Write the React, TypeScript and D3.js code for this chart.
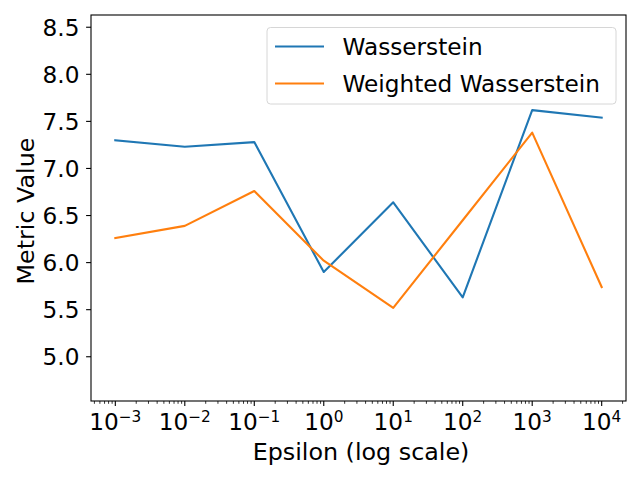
import React, { useEffect, useRef } from 'react';
import * as d3 from 'd3';

const epsilons = [1e-3, 1e-2, 1e-1, 1e0, 1e1, 1e2, 1e3, 1e4];
const wasserstein = [7.30, 7.23, 7.28, 5.90, 6.64, 5.63, 7.62, 7.54];
const weightedWasserstein = [6.26, 6.39, 6.76, 6.02, 5.52, 6.45, 7.38, 5.74];
const yTicks = [5.0, 5.5, 6.0, 6.5, 7.0, 7.5, 8.0, 8.5];
const seriesNames = ['Wasserstein', 'Weighted Wasserstein'];
const colors = ['#1f77b4', '#ff7f0e'];

const App: React.FC = () => {
  const svgRef = useRef<SVGSVGElement>(null);

  useEffect(() => {
    if (!svgRef.current) return;
    const width = 640;
    const height = 480;
    const m = { left: 91, top: 15, right: 14, bottom: 79 };
    const iw = width - m.left - m.right;
    const ih = height - m.top - m.bottom;
    const font = 'DejaVu Sans, sans-serif';
    const tickFs = 23.2;
    const labelFs = 23.8;
    const legendFs = 23.2;

    const root = d3.select(svgRef.current);
    root.selectAll('*').remove();
    root.attr('width', width).attr('height', height);
    root.append('rect').attr('width', width).attr('height', height).attr('fill', '#fff');

    const g = root.append('g').attr('transform', `translate(${m.left},${m.top})`);

    const x = d3.scaleLog().domain([Math.pow(10, -3.35), Math.pow(10, 4.35)]).range([0, iw]);
    const y = d3.scaleLinear().domain([4.53, 8.63]).range([ih, 0]);

    // lines
    const line = d3.line<number>()
      .x((_, i) => x(epsilons[i]))
      .y(d => y(d));
    [wasserstein, weightedWasserstein].forEach((s, i) => {
      g.append('path')
        .datum(s)
        .attr('fill', 'none')
        .attr('stroke', colors[i])
        .attr('stroke-width', 2.1)
        .attr('stroke-linejoin', 'round')
        .attr('stroke-linecap', 'square')
        .attr('d', line);
    });

    // frame
    g.append('rect')
      .attr('width', iw).attr('height', ih)
      .attr('fill', 'none').attr('stroke', '#000').attr('stroke-width', 1.1);

    // x minor ticks
    const minor: number[] = [];
    for (let k = -4; k <= 4; k++) {
      for (let j = 2; j <= 9; j++) {
        const v = j * Math.pow(10, k);
        if (x(v) >= 0 && x(v) <= iw) minor.push(v);
      }
    }
    g.append('g').selectAll('line').data(minor).enter().append('line')
      .attr('x1', d => x(d)).attr('x2', d => x(d))
      .attr('y1', ih).attr('y2', ih + 2.8)
      .attr('stroke', '#000').attr('stroke-width', 0.8);

    // x major ticks
    const xt = g.append('g').selectAll('g').data(epsilons).enter().append('g')
      .attr('transform', d => `translate(${x(d)},${ih})`);
    xt.append('line').attr('y2', 4.9).attr('stroke', '#000').attr('stroke-width', 1.1);
    const lbl = xt.append('text')
      .attr('y', 29)
      .attr('text-anchor', 'middle')
      .attr('font-family', font)
      .attr('font-size', tickFs)
      .attr('fill', '#000');
    lbl.append('tspan').text('10');
    lbl.append('tspan')
      .attr('dy', -8.5)
      .attr('font-size', tickFs * 0.66)
      .text(d => {
        const e = Math.round(Math.log10(d));
        return e < 0 ? `\u2212${-e}` : `${e}`;
      });

    // y ticks
    const yt = g.append('g').selectAll('g').data(yTicks).enter().append('g')
      .attr('transform', d => `translate(0,${y(d)})`);
    yt.append('line').attr('x2', -4.9).attr('stroke', '#000').attr('stroke-width', 1.1);
    yt.append('text')
      .attr('x', -11.5)
      .attr('dy', '0.36em')
      .attr('text-anchor', 'end')
      .attr('font-family', font)
      .attr('font-size', tickFs)
      .attr('fill', '#000')
      .text(d => d.toFixed(1));

    // axis labels
    root.append('text')
      .attr('x', 361)
      .attr('y', 460)
      .attr('text-anchor', 'middle')
      .attr('font-family', font)
      .attr('font-size', labelFs)
      .text('Epsilon (log scale)');
    root.append('text')
      .attr('transform', 'translate(33.5,211) rotate(-90)')
      .attr('text-anchor', 'middle')
      .attr('font-family', font)
      .attr('font-size', labelFs)
      .text('Metric Value');

    // legend
    const lg = root.append('g').attr('transform', 'translate(267,27.5)');
    lg.append('rect')
      .attr('width', 349).attr('height', 76.5)
      .attr('rx', 3.5)
      .attr('fill', '#fff').attr('fill-opacity', 0.8)
      .attr('stroke', '#d6d6d6').attr('stroke-width', 1);
    seriesNames.forEach((name, i) => {
      const ly = 19 + i * 37;
      lg.append('line')
        .attr('x1', 8).attr('x2', 57)
        .attr('y1', ly).attr('y2', ly)
        .attr('stroke', colors[i]).attr('stroke-width', 2.1);
      lg.append('text')
        .attr('x', 75.5).attr('y', ly)
        .attr('dy', '0.36em')
        .attr('font-family', font)
        .attr('font-size', legendFs)
        .text(name);
    });
  }, []);

  return <svg ref={svgRef} style={{ display: 'block', margin: -8 }}></svg>;
};

export default App;
